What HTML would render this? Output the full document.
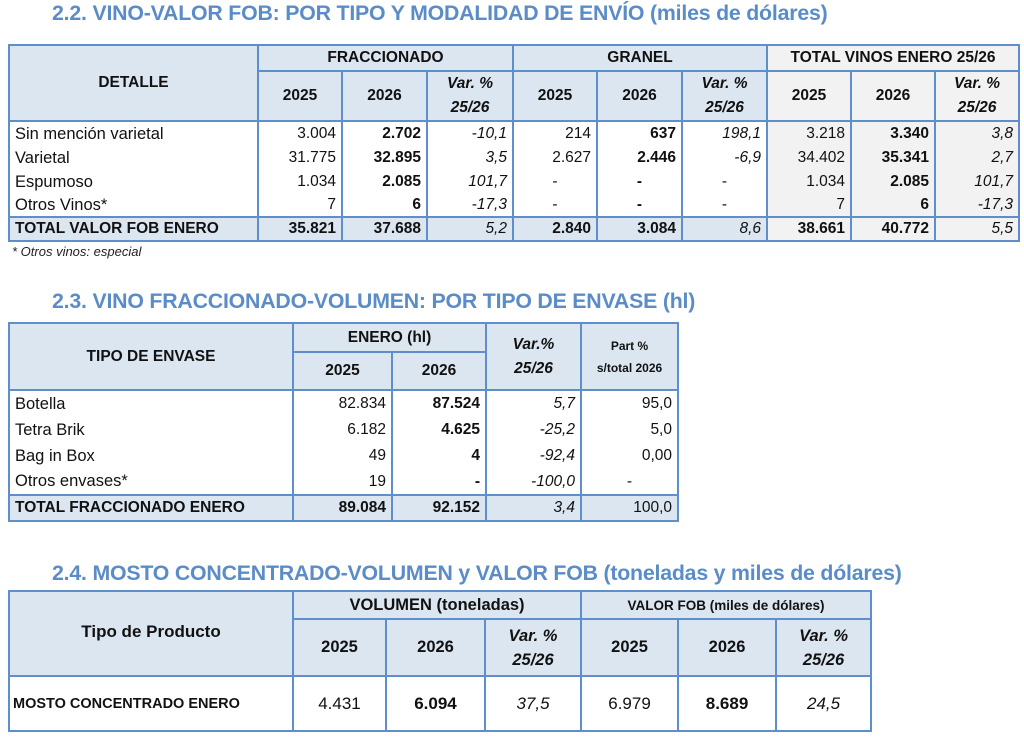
<!DOCTYPE html>
<html><head><meta charset="utf-8"><style>
body{margin:0;width:1024px;height:737px;background:#fff;position:relative;overflow:hidden;font-family:"Liberation Sans",sans-serif;color:#111}
.t{position:absolute;font-weight:bold;color:#5a8cc8;font-size:21.3px;white-space:nowrap;letter-spacing:-0.2px}
table{position:absolute;border-collapse:collapse;table-layout:fixed}
td{border:2px solid #5f8fcb;padding:0 5px;font-size:15.5px;white-space:nowrap;overflow:hidden}
.h{background:#dce6f1;font-weight:bold;text-align:center}
.g{background:#f2f2f2}
.hg{background:#f2f2f2;font-weight:bold;text-align:center}
.v{line-height:24px}
.d td{border-top:none;border-bottom:none;text-align:right}
.d td:first-child{text-align:left;font-size:16.5px}
.b{font-weight:bold}.i{font-style:italic}
.tot td{text-align:right;font-weight:bold;background:#dce6f1}
.tot td:first-child{text-align:left}
.tot td.i{font-weight:normal}
.tot td.g{background:#f2f2f2}
.c{text-align:center!important}
</style></head><body>
<div class="t" style="left:52px;top:1px">2.2. VINO-VALOR FOB: POR TIPO Y MODALIDAD DE ENVÍO (miles de dólares)</div>
<table style="left:8px;top:44px;width:1010px">
<colgroup><col style="width:249px"><col style="width:84px"><col style="width:85px"><col style="width:86px"><col style="width:84px"><col style="width:85px"><col style="width:85px"><col style="width:84px"><col style="width:84px"><col style="width:84px"></colgroup>
<tr style="height:26px"><td class="h" rowspan="2" style="vertical-align:top;padding-top:28px">DETALLE</td><td class="h" colspan="3">FRACCIONADO</td><td class="h" colspan="3">GRANEL</td><td class="hg" colspan="3">TOTAL VINOS ENERO 25/26</td></tr>
<tr style="height:50px"><td class="h">2025</td><td class="h">2026</td><td class="h i v">Var. %<br>25/26</td><td class="h">2025</td><td class="h">2026</td><td class="h i v">Var. %<br>25/26</td><td class="hg">2025</td><td class="hg">2026</td><td class="hg i v">Var. %<br>25/26</td></tr>
<tr class="d" style="height:25px"><td>Sin mención varietal</td><td>3.004</td><td class="b">2.702</td><td class="i">-10,1</td><td>214</td><td class="b">637</td><td class="i">198,1</td><td class="g">3.218</td><td class="g b">3.340</td><td class="g i">3,8</td></tr>
<tr class="d" style="height:24px"><td>Varietal</td><td>31.775</td><td class="b">32.895</td><td class="i">3,5</td><td>2.627</td><td class="b">2.446</td><td class="i">-6,9</td><td class="g">34.402</td><td class="g b">35.341</td><td class="g i">2,7</td></tr>
<tr class="d" style="height:24px"><td>Espumoso</td><td>1.034</td><td class="b">2.085</td><td class="i">101,7</td><td class="c">-</td><td class="c b">-</td><td class="c">-</td><td class="g">1.034</td><td class="g b">2.085</td><td class="g i">101,7</td></tr>
<tr class="d" style="height:23px"><td>Otros Vinos*</td><td>7</td><td class="b">6</td><td class="i">-17,3</td><td class="c">-</td><td class="c b">-</td><td class="c">-</td><td class="g">7</td><td class="g b">6</td><td class="g i">-17,3</td></tr>
<tr class="tot" style="height:24px"><td>TOTAL VALOR FOB ENERO</td><td>35.821</td><td>37.688</td><td class="i">5,2</td><td>2.840</td><td>3.084</td><td class="i">8,6</td><td class="g">38.661</td><td class="g">40.772</td><td class="g i">5,5</td></tr>
</table>
<div style="position:absolute;left:12px;top:244px;font-size:13px;font-style:italic;color:#222">* Otros vinos: especial</div>

<div class="t" style="left:52px;top:289px">2.3. VINO FRACCIONADO-VOLUMEN: POR TIPO DE ENVASE (hl)</div>
<table style="left:8px;top:322px;width:669px">
<colgroup><col style="width:284px"><col style="width:99px"><col style="width:94px"><col style="width:95px"><col style="width:97px"></colgroup>
<tr style="height:29px"><td class="h" rowspan="2">TIPO DE ENVASE</td><td class="h" colspan="2">ENERO (hl)</td><td class="h i v" rowspan="2">Var.%<br>25/26</td><td class="h" rowspan="2" style="font-size:12px;line-height:22px">Part %<br>s/total 2026</td></tr>
<tr style="height:38px"><td class="h">2025</td><td class="h">2026</td></tr>
<tr class="d" style="height:27px"><td>Botella</td><td>82.834</td><td class="b">87.524</td><td class="i">5,7</td><td>95,0</td></tr>
<tr class="d" style="height:26px"><td>Tetra Brik</td><td>6.182</td><td class="b">4.625</td><td class="i">-25,2</td><td>5,0</td></tr>
<tr class="d" style="height:26px"><td>Bag in Box</td><td>49</td><td class="b">4</td><td class="i">-92,4</td><td>0,00</td></tr>
<tr class="d" style="height:26px"><td>Otros envases*</td><td>19</td><td class="b">-</td><td class="i">-100,0</td><td class="c">-</td></tr>
<tr class="tot" style="height:26px"><td>TOTAL FRACCIONADO ENERO</td><td>89.084</td><td>92.152</td><td class="i">3,4</td><td style="font-weight:normal">100,0</td></tr>
</table>

<div class="t" style="left:52px;top:561px">2.4. MOSTO CONCENTRADO-VOLUMEN y VALOR FOB (toneladas y miles de dólares)</div>
<table style="left:8px;top:590px;width:862px">
<colgroup><col style="width:284px"><col style="width:93px"><col style="width:99px"><col style="width:96px"><col style="width:97px"><col style="width:98px"><col style="width:95px"></colgroup>
<tr style="height:28px"><td class="h" rowspan="2" style="vertical-align:top;padding-top:30px;font-size:17px">Tipo de Producto</td><td class="h" colspan="3" style="font-size:16.5px">VOLUMEN (toneladas)</td><td class="h" colspan="3" style="font-size:13.5px">VALOR FOB (miles de dólares)</td></tr>
<tr style="height:57px"><td class="h" style="font-size:16.5px">2025</td><td class="h" style="font-size:16.5px">2026</td><td class="h i v" style="font-size:16.5px">Var. %<br>25/26</td><td class="h" style="font-size:16.5px">2025</td><td class="h" style="font-size:16.5px">2026</td><td class="h i v" style="font-size:16.5px">Var. %<br>25/26</td></tr>
<tr style="height:55px"><td style="font-weight:bold;font-size:14.5px;padding-left:3px">MOSTO CONCENTRADO ENERO</td><td style="text-align:center;font-size:17px">4.431</td><td class="b" style="text-align:center;font-size:17px">6.094</td><td class="i" style="text-align:center;font-size:17px">37,5</td><td style="text-align:center;font-size:17px">6.979</td><td class="b" style="text-align:center;font-size:17px">8.689</td><td class="i" style="text-align:center;font-size:17px">24,5</td></tr>
</table>
</body></html>
